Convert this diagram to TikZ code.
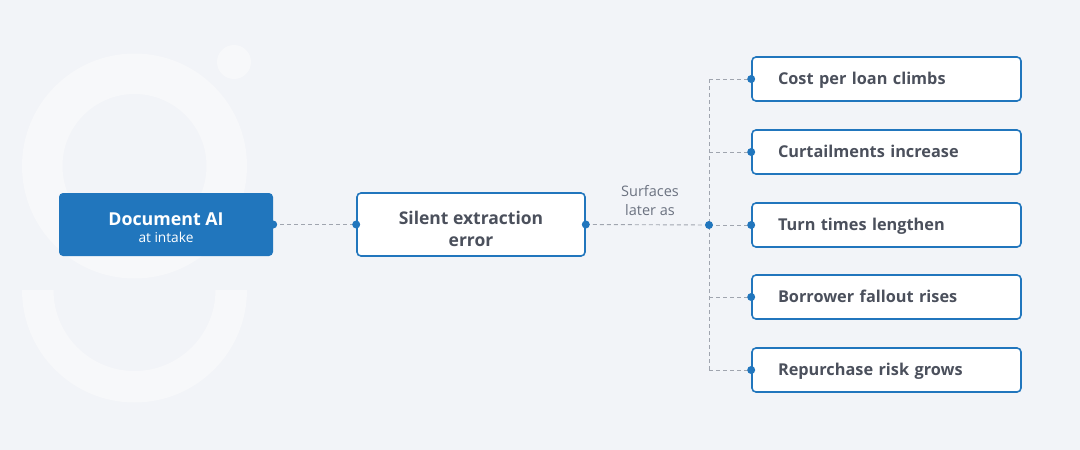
\documentclass[tikz,border=0pt]{standalone}
\usepackage{fontspec}
\setmainfont{Open Sans}
\definecolor{bg}{HTML}{F2F4F8}
\definecolor{ring}{HTML}{F7F8FA}
\definecolor{blue}{HTML}{2176BD}
\definecolor{txt}{HTML}{4B505C}
\definecolor{lbl}{HTML}{6B7280}
\definecolor{dash}{HTML}{A0A5AF}
\begin{document}
\begin{tikzpicture}[x=1pt,y=-1pt,
  box/.style={draw=blue,line width=1.6pt,fill=white,rounded corners=4pt,inner sep=0pt},
  srcbox/.style={fill=blue,rounded corners=4pt,inner sep=0pt},
  srctext/.style={text=white,align=center,inner sep=0pt},
  midtext/.style={text=txt,align=center,inner sep=0pt,font=\bfseries\fontsize{17.5}{22}\selectfont},
  outbox/.style={box,text=txt,minimum width=269pt,minimum height=44pt,text width=217pt,text height=11.5pt,text depth=0pt,align=left,font=\bfseries\fontsize{16.3}{18}\selectfont},
  conn/.style={draw=dash,line width=0.9pt,dash pattern=on 4pt off 3pt},
  dot/.style={circle,fill=blue,inner sep=0pt,minimum size=8pt}]
\fill[bg] (0,0) rectangle (1080,450);
\useasboundingbox (0,0) rectangle (1080,450);
% decorative shapes
\fill[ring,even odd rule] (134.5,166) circle (112.5) (134.5,166) circle (72);
\fill[ring] (22,290) arc[start angle=180,end angle=0,radius=112.5] -- (215.5,290) arc[start angle=0,end angle=180,radius=81] -- cycle;
\fill[ring] (234,62) circle (17);
% nodes
\node[srcbox,minimum width=214pt,minimum height=63pt] (src) at (166,224.5) {};
\node[srctext,font=\fontsize{13.7}{17}\selectfont] (srct) at ([yshift=-3.5pt]src.center) {{\bfseries\fontsize{17.8}{17}\selectfont Document AI}\\{\fontsize{13.7}{17}\selectfont at intake}};
\node[box,minimum width=228pt,minimum height=63pt] (mid) at (471,224.5) {};
\node[midtext] (midt) at ([yshift=-4.5pt]mid.center) {Silent extraction\\error};
\node[outbox] (o1) at (886.5,79) {Cost per loan climbs};
\node[outbox] (o2) at (886.5,152) {Curtailments increase};
\node[outbox] (o3) at (886.5,225) {Turn times lengthen};
\node[outbox] (o4) at (886.5,297) {Borrower fallout rises};
\node[outbox] (o5) at (886.5,370) {Repurchase risk grows};
\node[text=lbl,align=center,font=\fontsize{14.5}{19}\selectfont] (lab) at (650,201) {Surfaces\\later as};
\coordinate (j) at (709,225);
\coordinate (jt) at (709,79);
\coordinate (jb) at (709,370);
% connectors
\draw[conn] (src.east) -- (mid.west);
\draw[conn] (mid.east) -- (j);
\draw[conn] (jt) -- (jb);
\foreach \o in {o1,o2,o3,o4,o5}{\draw[conn] (j |- \o.west) -- (\o.west);}
% dots
\node[dot] at (src.east) {};
\node[dot] at (mid.west) {};
\node[dot] at (mid.east) {};
\node[dot] at (j) {};
\foreach \o in {o1,o2,o3,o4,o5}{\node[dot] at (\o.west) {};}
\end{tikzpicture}
\end{document}
